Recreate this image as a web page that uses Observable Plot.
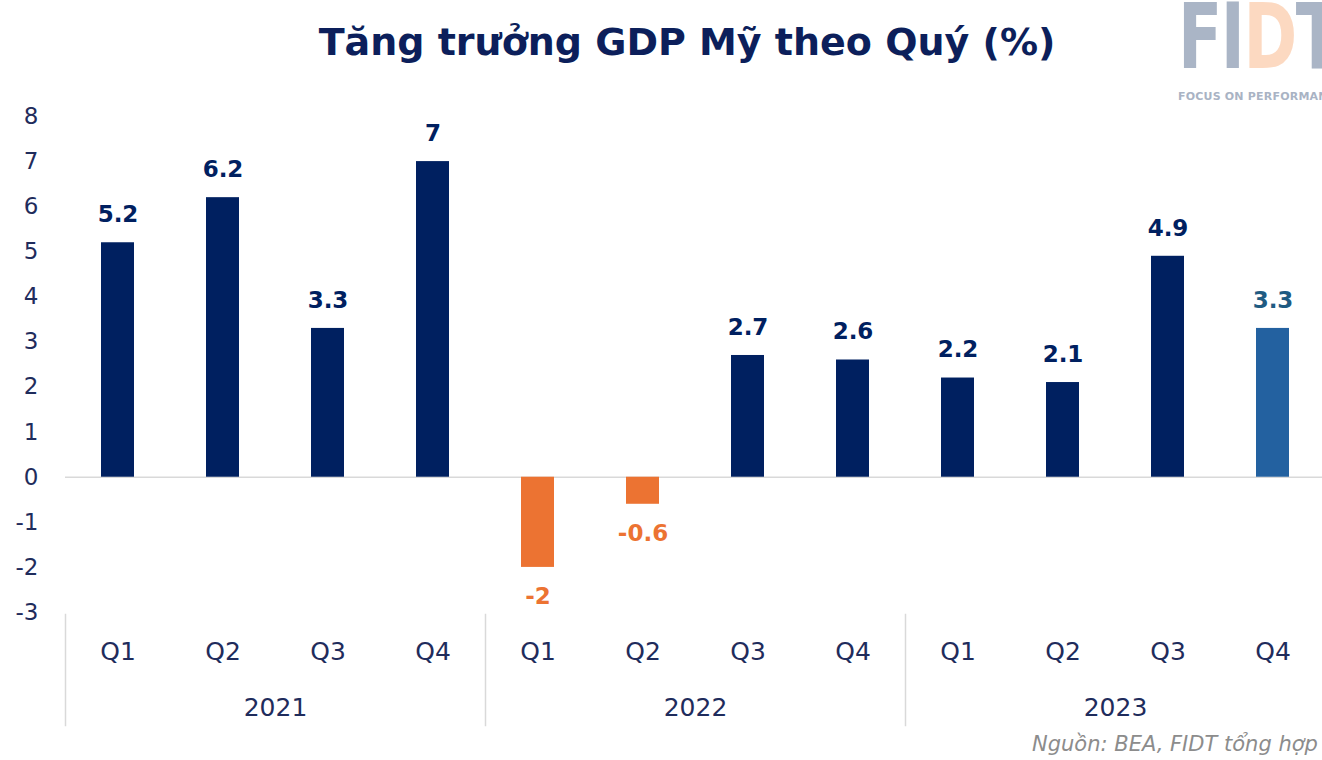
<!DOCTYPE html>
<html>
<head>
<meta charset="utf-8">
<script src="https://cdn.jsdelivr.net/npm/d3@7"></script>
<script src="https://cdn.jsdelivr.net/npm/@observablehq/plot@0.6"></script>
<style>
  html, body { margin: 0; padding: 0; background: #ffffff; width: 1322px; height: 760px; overflow: hidden; }
  #wrap { position: relative; width: 1322px; height: 760px; font-family: "DejaVu Sans", sans-serif; overflow: hidden; }
  #title { position: absolute; left: 52px; width: 1270px; top: 23px; text-align: center; font-size: 38px; font-weight: bold; color: #0c1f5b; line-height: 38px; white-space: nowrap; }
  #chart { position: absolute; left: 0; top: 90px; }
  #source { position: absolute; left: 1032px; top: 732px; font-size: 21px; font-style: italic; color: #8c8c8c; white-space: nowrap; }
  #logo { position: absolute; left: 1178px; top: -8px; font-size: 90px; font-weight: bold; line-height: 90px; color: #aab5c6; white-space: nowrap; transform: scaleX(0.72); transform-origin: left top; letter-spacing: -2px; }
  #logo .d { color: #fcd9c1; }
  #tag { position: absolute; left: 1178px; top: 90px; font-size: 11px; font-weight: bold; color: #a9b3c4; white-space: nowrap; letter-spacing: 0.2px; }
</style>
</head>
<body>
<div id="wrap">
  <div id="title">Tăng trưởng GDP Mỹ theo Quý (%)</div>
  <div id="logo">FI<span class="d">D</span>T</div>
  <div id="tag">FOCUS ON PERFORMANCE</div>
  <div id="chart"></div>
  <div id="source">Nguồn: BEA, FIDT tổng hợp</div>
</div>
<script>
// ---- data ----
const years    = ["2021","2021","2021","2021","2022","2022","2022","2022","2023","2023","2023","2023"];
const quarters = ["Q1","Q2","Q3","Q4","Q1","Q2","Q3","Q4","Q1","Q2","Q3","Q4"];
const values   = [5.2, 6.2, 3.3, 7, -2, -0.6, 2.7, 2.6, 2.2, 2.1, 4.9, 3.3];
const yearList = ["2021","2022","2023"];
const quarterList = ["Q1","Q2","Q3","Q4"];
const yTicks = [-3,-2,-1,0,1,2,3,4,5,6,7,8];

const NAVY = "#002060", ORANGE = "#ec7332", BLUE = "#2361a0", BLUE_LABEL = "#1f5b82", AXIS = "#1f2c5c", GRID = "#d9d9d9";
const lastIndex = values.length - 1;

const data = values.map((v, i) => ({year: years[i], quarter: quarters[i], value: v, i}));
const barColor = d => d.i === lastIndex ? BLUE : (d.value < 0 ? ORANGE : NAVY);
const labelColor = d => d.i === lastIndex ? BLUE_LABEL : (d.value < 0 ? ORANGE : NAVY);
const fmt = d => String(d.value);

const chart = Plot.plot({
  width: 1322,
  height: 670,
  marginLeft: 64,
  marginRight: -4,
  marginTop: 26,
  marginBottom: 148,
  style: {fontFamily: "DejaVu Sans, sans-serif", background: "transparent"},
  fx: {domain: yearList, padding: 0, label: null},
  x: {domain: quarterList, paddingInner: 0.686, paddingOuter: 0.343, label: null},
  y: {domain: [-3, 8], label: null},
  color: {type: "identity"},
  marks: [
    Plot.frame({anchor: "left", stroke: GRID, strokeWidth: 1.5, insetTop: 498, insetBottom: -113}),
    Plot.ruleY([0], {stroke: GRID, strokeWidth: 1.5}),
    Plot.barY(data, {fx: "year", x: "quarter", y: "value", fill: barColor}),
    Plot.text(data.filter(d => d.value >= 0), {fx: "year", x: "quarter", y: "value", text: fmt, fill: labelColor, dy: -28, fontSize: 23, fontWeight: "bold"}),
    Plot.text(data.filter(d => d.value < 0), {fx: "year", x: "quarter", y: "value", text: fmt, fill: labelColor, dy: 29, fontSize: 23, fontWeight: "bold"}),
    Plot.axisY({ticks: yTicks, tickSize: 0, tickPadding: 27, fontSize: 23, fill: AXIS, tickFormat: d => String(d)}),
    Plot.axisX({tickSize: 0, tickPadding: 30, fontSize: 25, fill: AXIS}),
    Plot.axisFx({anchor: "bottom", tickSize: 0, tickPadding: 86, fontSize: 25, fill: AXIS, label: null})
  ]
});
document.getElementById("chart").appendChild(chart);
</script>
</body>
</html>
